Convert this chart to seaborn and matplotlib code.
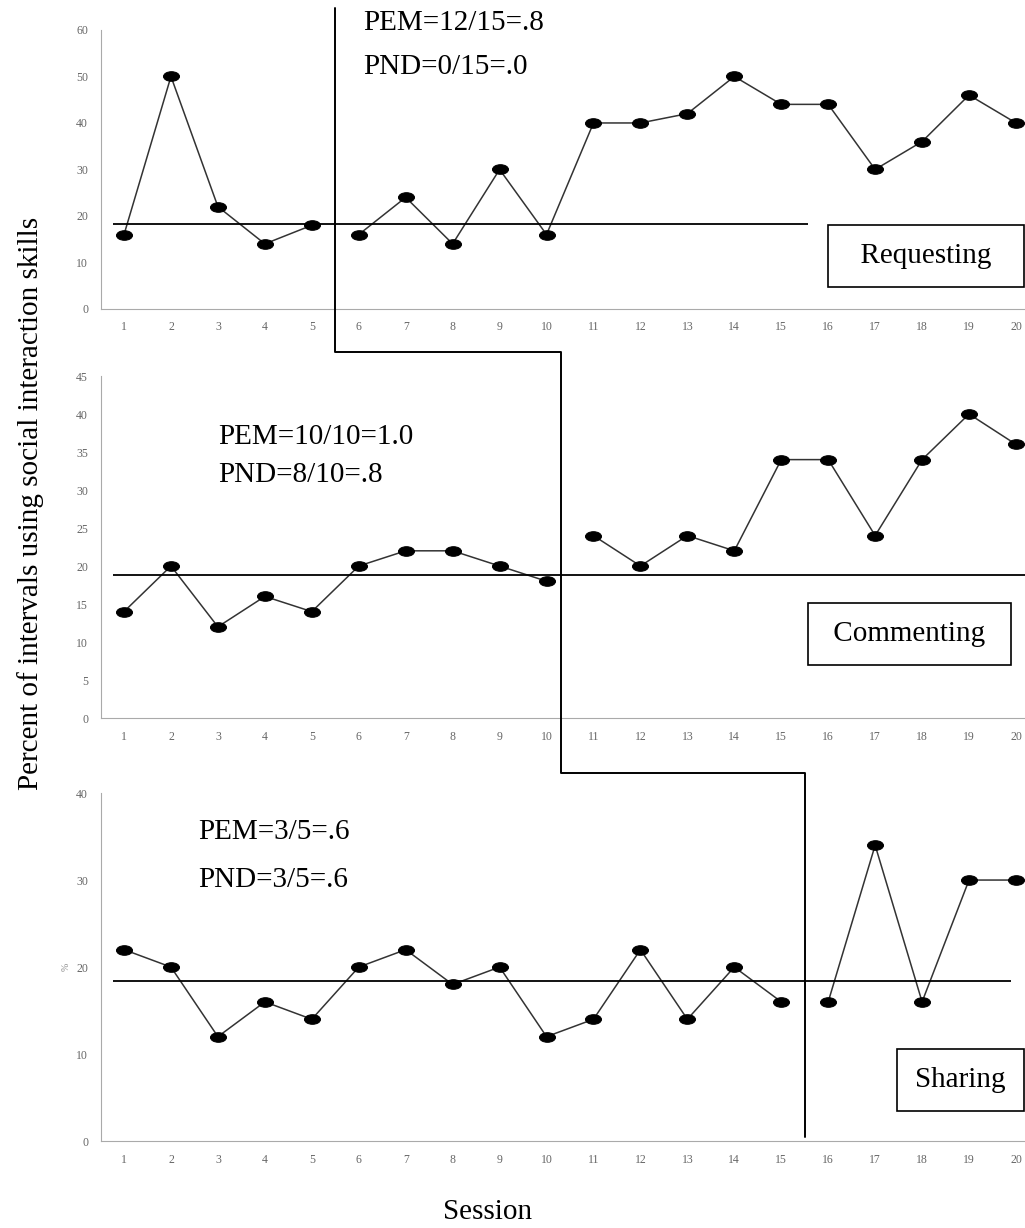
import numpy as np
import pandas as pd
import matplotlib
matplotlib.use("Agg")
import matplotlib.pyplot as plt
import seaborn as sns
from matplotlib.path import Path
from matplotlib.markers import MarkerStyle
from matplotlib.lines import Line2D
from matplotlib.transforms import blended_transform_factory

# --- data ---
sessions = list(range(1, 21))
requesting = [16, 50, 22, 14, 18, 16, 24, 14, 30, 16, 40, 40, 42, 50, 44, 44, 30, 36, 46, 40]
commenting = [14, 20, 12, 16, 14, 20, 22, 22, 20, 18, 24, 20, 24, 22, 34, 34, 24, 34, 40, 36]
sharing = [22, 20, 12, 16, 14, 20, 22, 18, 20, 12, 14, 22, 14, 20, 16, 16, 34, 16, 30, 30]

behaviours = ["Requesting", "Commenting", "Sharing"]
baseline_end = [5, 10, 15]          # last baseline session per behaviour
phase_change = [5.5, 10.3, 15.5]    # where the staircase line drops
y_max = [60, 45, 40]
y_step = [10, 5, 10]
level = [18.3, 18.8, 18.4]          # horizontal criterion lines
level_span = [(0.77, 15.56), (0.77, 20.5), (0.77, 19.9)]
pem_text = ["PEM=12/15=.8", "PEM=10/10=1.0", "PEM=3/5=.6"]
pnd_text = ["PND=0/15=.0", "PND=8/10=.8", "PND=3/5=.6"]

df = pd.DataFrame({
    "session": sessions * 3,
    "value": requesting + commenting + sharing,
    "behaviour": np.repeat(behaviours, 20),
})
df["phase"] = [
    "baseline" if s <= baseline_end[behaviours.index(b)] else "treatment"
    for s, b in zip(df["session"], df["behaviour"])
]

sns.set_style("white")
plt.rcParams["font.family"] = ["Liberation Serif", "DejaVu Serif"]
plt.rcParams["text.color"] = "black"

fig = plt.figure(figsize=(10.25, 12.28), dpi=100)

# axes positions (figure fractions)
positions = [
    (0.0981, 0.7484, 0.916, 0.2272),
    (0.0981, 0.4153, 0.916, 0.2785),
    (0.0981, 0.0708, 0.916, 0.2834),
]
# annotation placement in data coords
pem_xy = [(6.09, 61.5), (3.01, 37.0), (2.58, 35.5)]
pnd_xy = [(6.09, 52.0), (3.01, 32.0), (2.58, 30.0)]
box_xy = [(18.09, 11.4), (17.73, 11.05), (18.82, 7.0)]
box_label = ["  Requesting  ", " Commenting ", "Sharing"]

ellipse = Path.unit_circle().transformed(matplotlib.transforms.Affine2D().scale(1.0, 0.6))
marker = MarkerStyle(ellipse)

axes = []
for i, b in enumerate(behaviours):
    ax = fig.add_axes(positions[i])
    axes.append(ax)
    sub = df[df["behaviour"] == b]
    for ph, g in sub.groupby("phase"):
        sns.lineplot(data=g, x="session", y="value", ax=ax, color="#333333",
                     lw=1.1, marker=marker, markersize=11.5, markerfacecolor="black",
                     markeredgecolor="black", clip_on=False, legend=False)
    ax.set_xlim(0.5, 20.5)
    ax.set_ylim(0, y_max[i])
    ax.set_xticks(sessions)
    ax.set_xticks(np.arange(1.5, 20, 1), minor=True)
    ax.set_yticks(np.arange(0, y_max[i] + 1, y_step[i]))
    ax.tick_params(axis="x", which="major", length=0, pad=9, labelsize=8.5, labelcolor="#666666")
    ax.tick_params(axis="x", which="minor", length=4, direction="in", color="#aaaaaa", width=0.8)
    ax.tick_params(axis="y", length=3, direction="out", color="#aaaaaa", width=0.8,
                   pad=6, labelsize=8.5, labelcolor="#666666")
    ax.set_xlabel("")
    ax.set_ylabel("")
    for side in ["top", "right"]:
        ax.spines[side].set_visible(False)
    for side in ["left", "bottom"]:
        ax.spines[side].set_color("#aaaaaa")
        ax.spines[side].set_linewidth(0.8)
    ax.hlines(level[i], level_span[i][0], level_span[i][1], color="black", lw=1.3, clip_on=False)
    ax.text(*pem_xy[i], pem_text[i], fontsize=21, va="center", ha="left", clip_on=False)
    ax.text(*pnd_xy[i], pnd_text[i], fontsize=21, va="center", ha="left", clip_on=False)
    ax.text(*box_xy[i], box_label[i], fontsize=21, va="center", ha="center",
            bbox=dict(boxstyle="square,pad=0.62", fc="white", ec="black", lw=1.2))

axes[2].set_ylabel("%", fontsize=7, color="#888888", labelpad=4)

# staircase phase-change line across the three panels
def to_fig(ax, x, yfrac):
    tr = blended_transform_factory(ax.transData, ax.transAxes)
    return fig.transFigure.inverted().transform(tr.transform((x, yfrac)))

pts = [
    to_fig(axes[0], phase_change[0], 1.079),
    to_fig(axes[0], phase_change[0], -0.154),
    to_fig(axes[0], phase_change[1], -0.154),
    to_fig(axes[1], phase_change[1], -0.161),
    to_fig(axes[1], phase_change[2], -0.161),
    to_fig(axes[2], phase_change[2], 0.011),
]
pts = np.array(pts)
fig.add_artist(Line2D(pts[:, 0], pts[:, 1], transform=fig.transFigure, color="black", lw=1.4))

fig.text(0.03, 0.59, "Percent of intervals using social interaction skills",
         rotation=90, fontsize=21, ha="center", va="center")
fig.text(0.476, 0.013, "Session", fontsize=21, ha="center", va="center")

fig.savefig("out.png", dpi=100)
